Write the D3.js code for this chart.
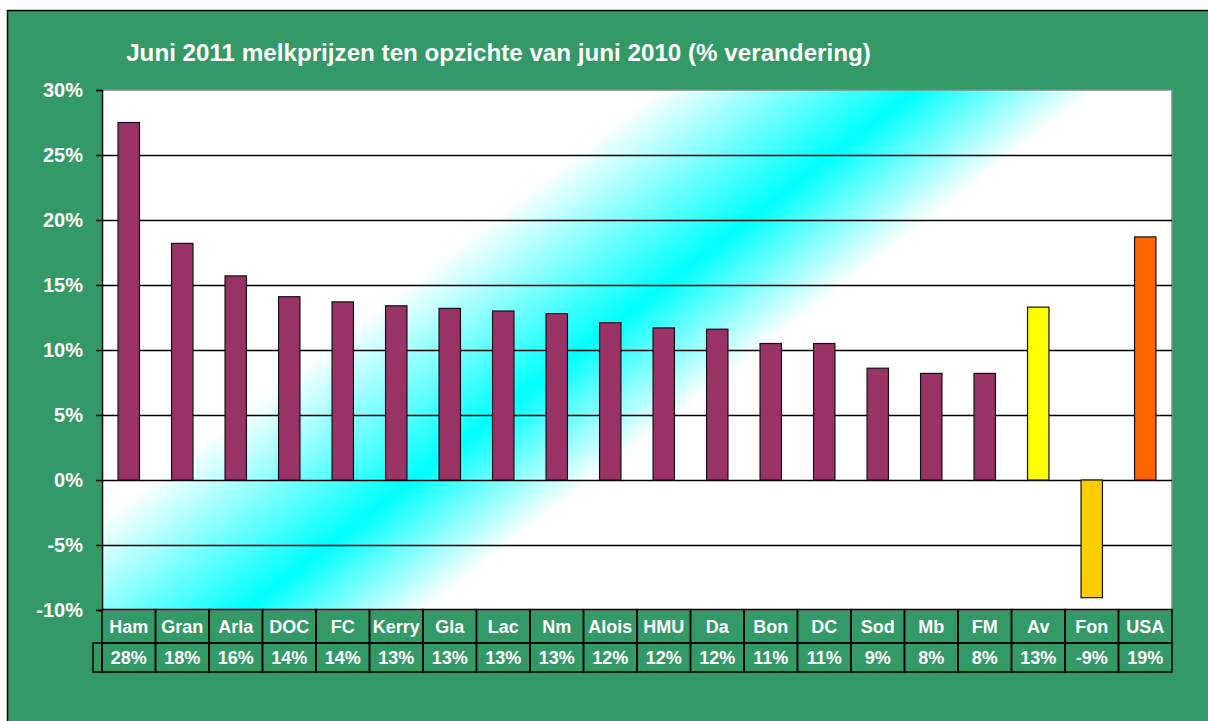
<!DOCTYPE html>
<html><head><meta charset="utf-8">
<script src="https://cdnjs.cloudflare.com/ajax/libs/d3/7.8.5/d3.min.js"></script>
<style>
html,body{margin:0;padding:0;background:#fff;}
svg{display:block;font-family:Arial,"Liberation Sans",sans-serif;}
</style></head>
<body>
<svg id="c" width="1208" height="721"></svg>
<script>
const categories = ["Ham","Gran","Arla","DOC","FC","Kerry","Gla","Lac","Nm","Alois","HMU","Da","Bon","DC","Sod","Mb","FM","Av","Fon","USA"];
const values = [27.5,18.2,15.7,14.1,13.7,13.4,13.2,13.0,12.8,12.1,11.7,11.6,10.5,10.5,8.6,8.2,8.2,13.3,-9.05,18.7];
const tableLabels = ["28%","18%","16%","14%","14%","13%","13%","13%","13%","12%","12%","12%","11%","11%","9%","8%","8%","13%","-9%","19%"];
const barColors = ["#993366","#993366","#993366","#993366","#993366","#993366","#993366","#993366","#993366","#993366","#993366","#993366","#993366","#993366","#993366","#993366","#993366","#FFFF00","#FFCC00","#FF6600"];
const yTicks = [-10,-5,0,5,10,15,20,25,30];
const title = "Juni 2011 melkprijzen ten opzichte van juni 2010 (% verandering)";

const svg = d3.select("#c");
const L = 102, R = 1172, T = 90, B = 610;

// chart area
svg.append("rect").attr("x",7.5).attr("y",10.5).attr("width",1210).attr("height",720)
  .attr("fill","#339966").attr("stroke","#000").attr("stroke-width",1.5);

// gradient
const defs = svg.append("defs");
const g = defs.append("linearGradient").attr("id","bg").attr("gradientUnits","userSpaceOnUse")
  .attr("x1",487).attr("y1",222).attr("x2",652).attr("y2",435);
g.append("stop").attr("offset",0).attr("stop-color","#ffffff");
g.append("stop").attr("offset",0.59).attr("stop-color","#00ffff");
g.append("stop").attr("offset",1).attr("stop-color","#ffffff");

svg.append("rect").attr("x",L).attr("y",T).attr("width",R-L).attr("height",B-T)
  .attr("fill","url(#bg)").attr("stroke","#888").attr("stroke-width",1.5);

const x = d3.scaleBand().domain(categories).range([L,R]).padding(0);
const y = d3.scaleLinear().domain([-10,30]).range([B,T]);
const bw = x.bandwidth();

// gridlines
svg.append("g").selectAll("line").data(yTicks.filter(t=>t>-10 && t<30)).join("line")
  .attr("x1",L).attr("x2",R).attr("y1",d=>Math.round(y(d))+0.5).attr("y2",d=>Math.round(y(d))+0.5)
  .attr("stroke","#000").attr("stroke-width",1.5);

// bars
svg.append("g").selectAll("rect").data(values).join("rect")
  .attr("x",(d,i)=>x(categories[i])+bw*0.3)
  .attr("width",bw*0.4)
  .attr("y",d=>y(Math.max(0,d)))
  .attr("height",d=>Math.abs(y(d)-y(0)))
  .attr("fill",(d,i)=>barColors[i]).attr("stroke","#111").attr("stroke-width",1.2);

// y axis
const yAxis = d3.axisLeft(y).tickValues(yTicks).tickFormat(d=>d+"%").tickSize(6).tickPadding(13);
const ya = svg.append("g").attr("transform",`translate(${L},0)`).call(yAxis);
ya.select(".domain").attr("stroke","#000").attr("stroke-width",1.5);
ya.selectAll(".tick line").attr("stroke","#000").attr("stroke-width",1.5);
ya.selectAll(".tick text").attr("fill","#fff").attr("font-size",20).attr("font-weight","bold")
  .attr("font-family","Arial, 'Liberation Sans', sans-serif");

// data table
const r1t = 609.5, r1b = 643, r2b = 672;
const tbl = svg.append("g");
tbl.selectAll("rect.cat").data(categories).join("rect").attr("class","cat")
  .attr("x",d=>x(d)).attr("y",r1t).attr("width",bw).attr("height",r1b-r1t)
  .attr("fill","none").attr("stroke","#000").attr("stroke-width",1.5);
tbl.selectAll("rect.val").data(categories).join("rect").attr("class","val")
  .attr("x",d=>x(d)).attr("y",r1b).attr("width",bw).attr("height",r2b-r1b)
  .attr("fill","none").attr("stroke","#000").attr("stroke-width",1.5);
tbl.append("rect").attr("x",93).attr("y",r1b).attr("width",L-93).attr("height",r2b-r1b)
  .attr("fill","none").attr("stroke","#000").attr("stroke-width",1.5);
tbl.selectAll("text.cat").data(categories).join("text").attr("class","cat")
  .attr("x",d=>x(d)+bw/2).attr("y",(r1t+r1b)/2).attr("dy","0.36em")
  .attr("text-anchor","middle").attr("fill","#fff").attr("font-size",18).attr("font-weight","bold")
  .text(d=>d);
tbl.selectAll("text.val").data(tableLabels).join("text").attr("class","val")
  .attr("x",(d,i)=>x(categories[i])+bw/2).attr("y",(r1b+r2b)/2).attr("dy","0.36em")
  .attr("text-anchor","middle").attr("fill","#fff").attr("font-size",18).attr("font-weight","bold")
  .text(d=>d);

// title
svg.append("text").attr("x",498.5).attr("y",61).attr("text-anchor","middle")
  .attr("fill","#fff").attr("font-size",24.2).attr("font-weight","bold").text(title);
</script>
</body></html>
